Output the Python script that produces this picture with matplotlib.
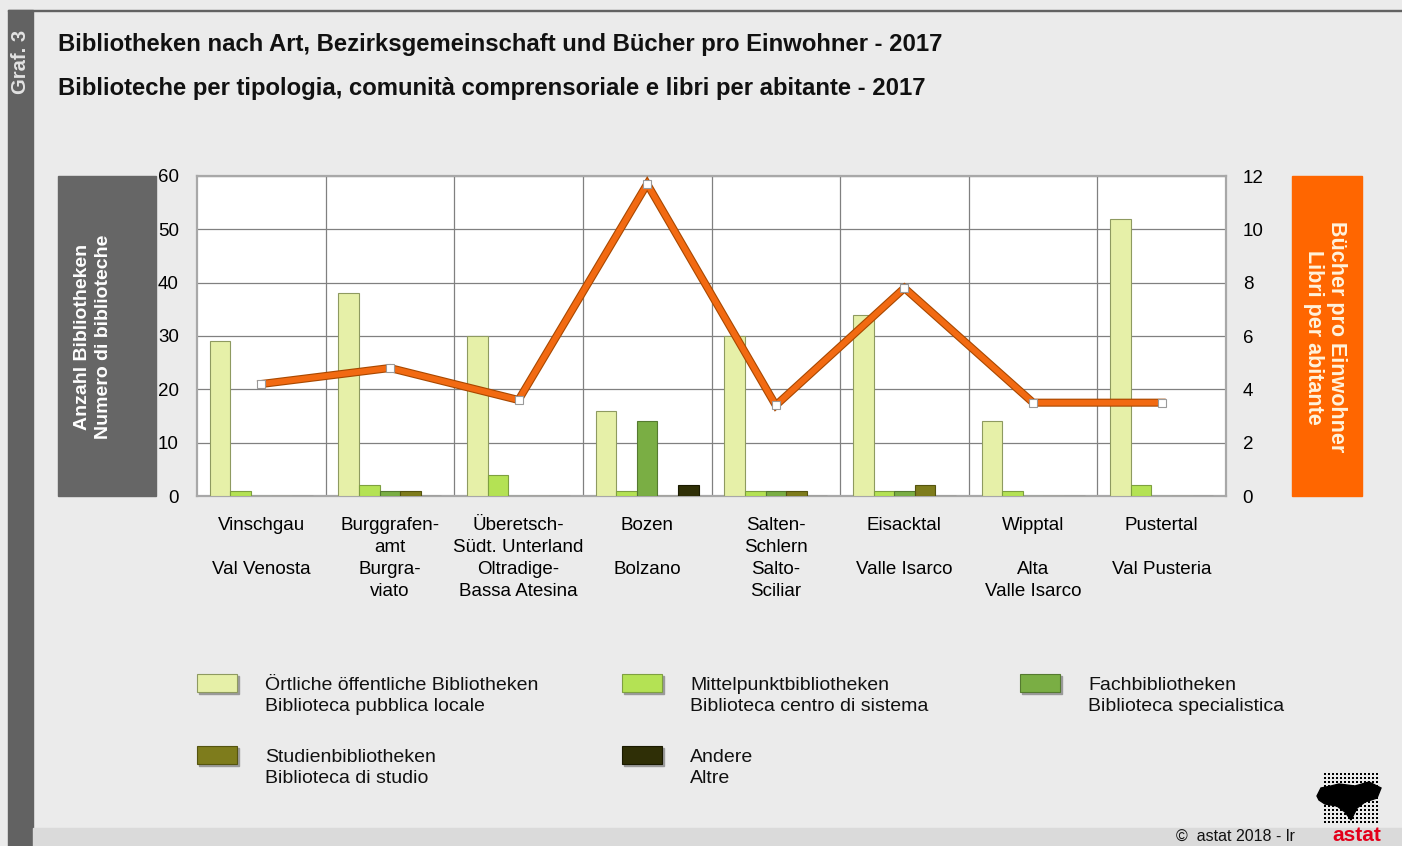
import numpy as np
import matplotlib
matplotlib.use("Agg")
import matplotlib.pyplot as plt
from matplotlib.patches import Rectangle, Polygon
import matplotlib.patheffects as pe

plt.rcParams["font.family"] = ["Liberation Sans", "DejaVu Sans"]

# categories: German / Italian names (two lines each)
districts = [
    "Vinschgau\n\nVal Venosta",
    "Burggrafen-\namt\nBurgra-\nviato",
    "Überetsch-\nSüdt. Unterland\nOltradige-\nBassa Atesina",
    "Bozen\n\nBolzano",
    "Salten-\nSchlern\nSalto-\nSciliar",
    "Eisacktal\n\nValle Isarco",
    "Wipptal\n\nAlta\nValle Isarco",
    "Pustertal\n\nVal Pusteria",
]
series_names = [
    "Örtliche öffentliche Bibliotheken\nBiblioteca pubblica locale",
    "Mittelpunktbibliotheken\nBiblioteca centro di sistema",
    "Fachbibliotheken\nBiblioteca specialistica",
    "Studienbibliotheken\nBiblioteca di studio",
    "Andere\nAltre",
]
local_libs = [29, 38, 30, 16, 30, 34, 14, 52]
central_libs = [1, 2, 4, 1, 1, 1, 1, 2]
special_libs = [0, 1, 0, 14, 1, 1, 0, 0]
study_libs = [0, 1, 0, 0, 1, 2, 0, 0]
other_libs = [0, 0, 0, 2, 0, 0, 0, 0]
books_per_inhabitant = [4.2, 4.8, 3.6, 11.7, 3.4, 7.8, 3.5, 3.5]

bar_colors = ["#E6F0A8", "#B4E254", "#7AAE44", "#7E7C1C", "#2F2F06"]
bar_edges = ["#8E9A60", "#7EA040", "#557A30", "#55540F", "#1A1A00"]
bg = "#EBEBEB"

W, H = 1402, 846
fig = plt.figure(figsize=(W / 100, H / 100), dpi=100, facecolor=bg)

def fx(px): return px / W
def fy(py): return 1 - py / H

# frame: left strip, top line, bottom strip
fig.add_artist(Rectangle((fx(8), 0), fx(25), fy(10), transform=fig.transFigure,
                         color="#626262", zorder=0))
fig.add_artist(Rectangle((fx(8), fy(11)), 1, fy(10) - fy(11), transform=fig.transFigure,
                         color="#626262", zorder=0))
fig.add_artist(Rectangle((fx(33), 0), 1, fy(828), transform=fig.transFigure,
                         color="#DADADA", zorder=0))
fig.text(fx(21), fy(62), "Graf. 3", rotation=90, color="#E2E2E2", fontsize=14.5,
         fontweight="bold", ha="center", va="center")

fig.text(fx(58), fy(45), "Bibliotheken nach Art, Bezirksgemeinschaft und Bücher pro Einwohner - 2017",
         fontsize=17.2, fontweight="bold", va="center", color="#111111")
fig.text(fx(58), fy(89), "Biblioteche per tipologia, comunità comprensoriale e libri per abitante - 2017",
         fontsize=17.2, fontweight="bold", va="center", color="#111111")

# axis boxes
fig.add_artist(Rectangle((fx(58), fy(496)), fx(98), fy(176) - fy(496),
                         transform=fig.transFigure, color="#666666", zorder=-1))
fig.text(fx(93), fy(337), "Anzahl Bibliotheken\nNumero di biblioteche", rotation=90,
         color="white", fontsize=14, fontweight="bold", ha="center", va="center",
         linespacing=1.3)
fig.add_artist(Rectangle((fx(1292), fy(496)), fx(70), fy(176) - fy(496),
                         transform=fig.transFigure, color="#FF6600", zorder=-1))
fig.text(fx(1325), fy(337), "Bücher pro Einwohner\nLibri per abitante", rotation=270,
         color="#FFF3DC", fontsize=15.5, fontweight="bold", ha="center", va="center",
         linespacing=1.1)

# main axes
ax = fig.add_axes([fx(197), fy(496), fx(1226) - fx(197), fy(176) - fy(496)])
ax.set_facecolor("white")
x = np.arange(len(districts))
series = [local_libs, central_libs, special_libs, study_libs, other_libs]
bw = 0.16
for j, vals in enumerate(series):
    ax.bar(x + (j - 2) * bw, vals, width=bw, color=bar_colors[j],
           edgecolor=bar_edges[j], linewidth=0.8, zorder=3)
ax.set_xlim(-0.5, len(districts) - 0.5)
ax.set_ylim(0, 60)
ax.set_yticks(range(0, 61, 10))
ax.set_xticks(x)
ax.set_xticklabels(districts, fontsize=13.5, linespacing=1.38, va="top")
ax.set_xticks(np.arange(0.5, len(districts) - 0.5), minor=True)
ax.tick_params(axis="x", which="both", length=0, pad=15)
ax.tick_params(axis="y", length=0, pad=13, labelsize=13.5)
ax.grid(True, axis="y", color="#808080", lw=0.9, zorder=1)
ax.grid(True, axis="x", which="minor", color="#808080", lw=0.9, zorder=1)
for s in ax.spines.values():
    s.set_color("#A8A8A8")
    s.set_linewidth(1.6)

ax2 = ax.twinx()
ax2.set_ylim(0, 12)
ax2.set_yticks(range(0, 13, 2))
ax2.tick_params(axis="y", length=0, pad=12, labelsize=13.5)
for s in ax2.spines.values():
    s.set_visible(False)
ax2.plot(x, books_per_inhabitant, color="#F26A12", lw=4.2, zorder=4,
         solid_joinstyle="miter",
         path_effects=[pe.Stroke(linewidth=5.8, foreground="#A84800"), pe.Normal()])
ax2.plot(x, books_per_inhabitant, ls="none", marker="s", ms=5.5, mfc="white",
         mec="#9A9A9A", mew=0.8, zorder=5)

# legend
leg_pos = [(197, 683), (622, 683), (1020, 683), (197, 755), (622, 755)]
for j, (px, py) in enumerate(leg_pos):
    fig.add_artist(Rectangle((fx(px + 2), fy(py + 11)), fx(40), fy(py - 7) - fy(py + 11),
                             transform=fig.transFigure, color="#9A9A9A", zorder=1))
    fig.add_artist(Rectangle((fx(px), fy(py + 9)), fx(40), fy(py - 9) - fy(py + 9),
                             transform=fig.transFigure, facecolor=bar_colors[j],
                             edgecolor=bar_edges[j], lw=0.8, zorder=2))
    fig.text(fx(px + 68), fy(py + 13), series_names[j], fontsize=14,
             va="center", ha="left", linespacing=1.36, color="#111111")

# footer
fig.text(fx(1295), fy(836), "©  astat 2018 - lr", fontsize=11.5, ha="right",
         va="center", color="#111111")
fig.text(fx(1357), fy(835), "astat", fontsize=15, fontweight="bold", ha="center",
         va="center", color="#E3001B")
lax = fig.add_axes([fx(1315), fy(826), fx(70), fy(772) - fy(826)])
lax.set_xlim(0, 70)
lax.set_ylim(0, 54)
lax.axis("off")
gx, gy = np.meshgrid(np.arange(10, 66, 4), np.arange(4, 54, 4))
lax.scatter(gx.ravel(), gy.ravel(), s=2.5, color="black", marker="s", lw=0)
lax.add_patch(Polygon([(2, 30), (6, 38), (16, 40), (24, 42), (40, 40), (54, 44),
                       (66, 38), (62, 28), (50, 24), (42, 18), (36, 6), (30, 14),
                       (22, 20), (10, 22), (4, 26)], closed=True, color="black"))

fig.savefig("out.png", dpi=100, facecolor=bg)
